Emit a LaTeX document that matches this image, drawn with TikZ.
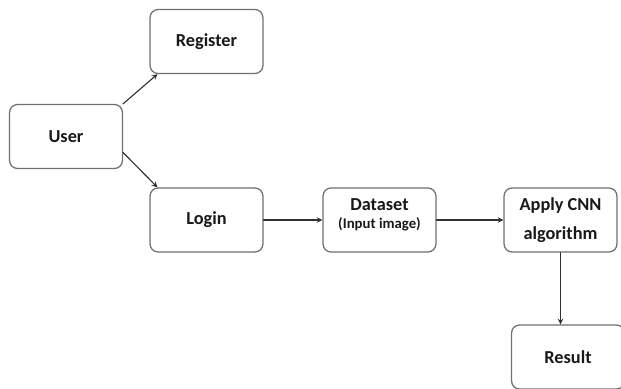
\documentclass[tikz,border=0pt]{standalone}
\usepackage{fontspec}
\setmainfont{Carlito}
\usepackage{xcolor}
\usepackage{tikz}
\usetikzlibrary{positioning,calc}

\begin{document}
\begin{tikzpicture}[
		font=\fontsize{13}{16}\selectfont\bfseries,
		>=stealth,
		line cap=round,
		line join=round,
		x=0.025cm, y=-0.025cm
		]
		% colours
		\definecolor{boxLine}{HTML}{707070}
		\definecolor{arrLine}{HTML}{303030}
		
		% Style node
		\tikzset{
			stepbox/.style={rectangle, rounded corners=2mm, draw=boxLine, line width=0.9pt,
				fill=white, text=black!90, align=center,
				minimum width=2.82cm, minimum height=1.6cm},
			flow/.style={->, draw=arrLine, line width=0.8pt}
		}
		
		\useasboundingbox (0,0) rectangle (621,389);
		
		% ===== Node positions =====
		\node[stepbox] (U)  at (66, 136.5) {User};
		\node[stepbox] (Rg) at (206.5, 41.5) {Register};
		\node[stepbox] (Lg) at (206.5, 220) {Login};
		\node[stepbox] (D)  at (379.5, 220) {Dataset\\[-3pt]{\fontsize{10.5}{12}\selectfont(Input image)}\rule[-9pt]{0pt}{9pt}};
		\node[stepbox] (A)  at (560.5, 220) {Apply CNN\\[5pt]algorithm};
		\node[stepbox] (Rs) at (568, 357) {Result};
		
		% ===== Arrows =====
		\draw[flow] (U.north east) -- ([xshift=2mm]Rg.south west);
		\draw[flow] ([yshift=-4mm]U.east) -- ([xshift=2mm]Lg.north west);
		
		\draw[flow] (Lg.east) -- (D.west);
		\draw[flow] (D.east) -- (A.west);
		
		\draw[flow] (A.south) -- (A.south |- Rs.north);
		
	\end{tikzpicture}
\end{document}
